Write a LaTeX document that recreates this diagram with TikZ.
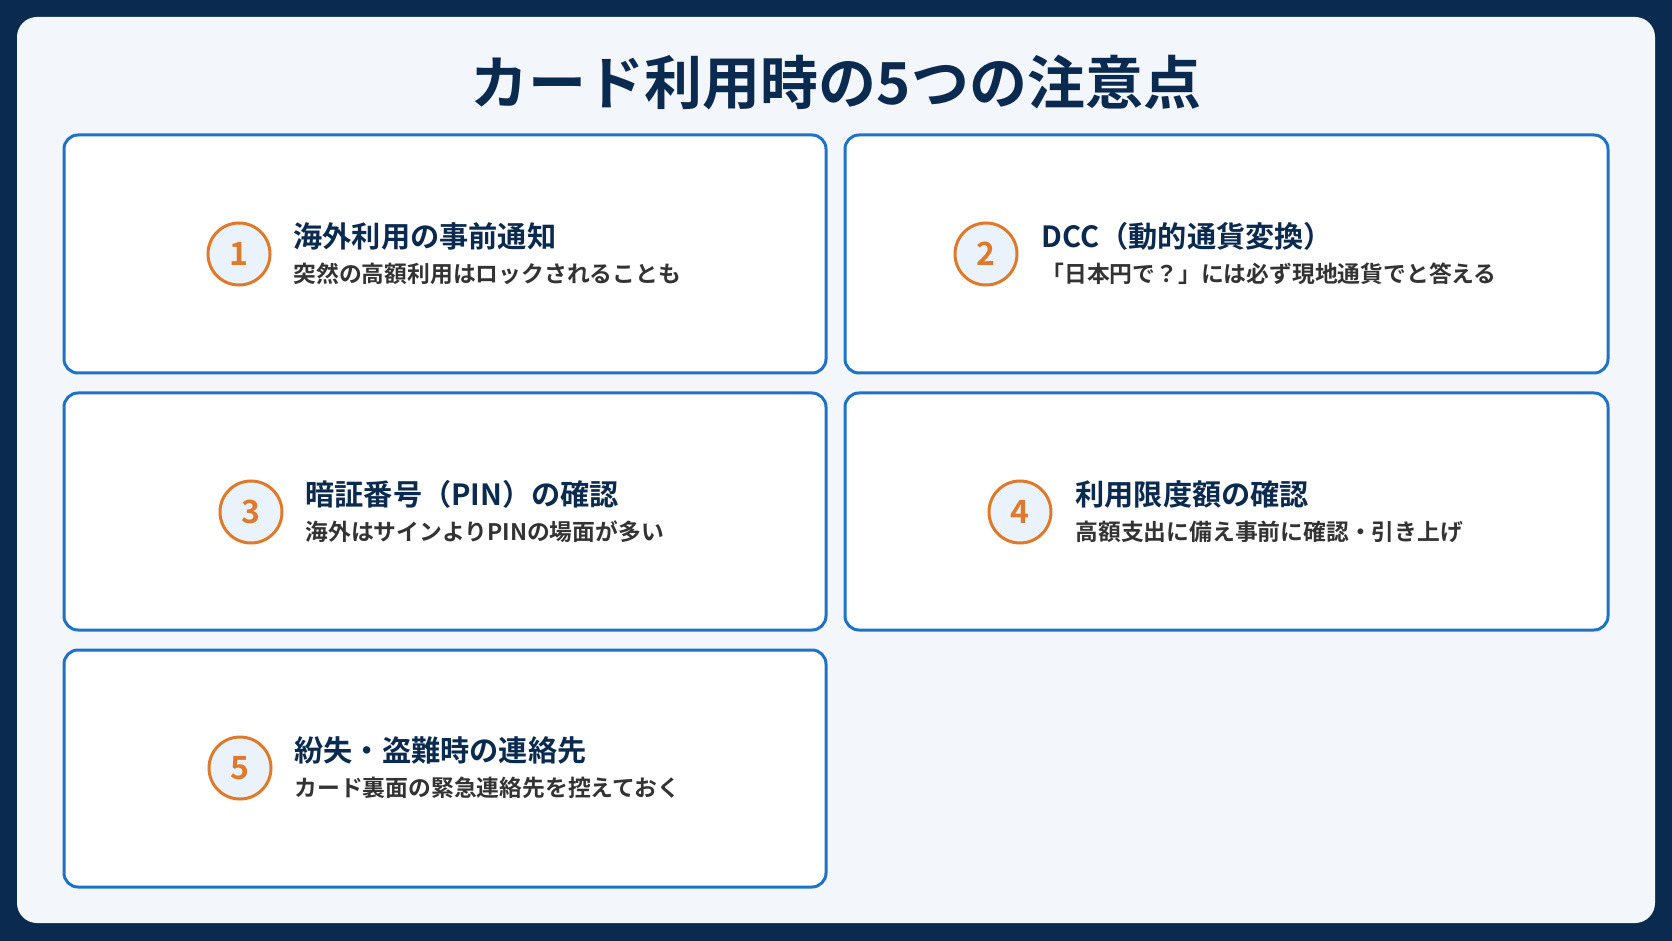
\documentclass[tikz,border=0pt]{standalone}
\usepackage{fontspec}
\setmainfont{Noto Sans CJK JP}
\newfontfamily\jpb{Noto Sans CJK JP Bold}
\definecolor{navy}{HTML}{0B2A4F}
\definecolor{panel}{HTML}{F3F7FB}
\definecolor{cardline}{HTML}{1F72C6}
\definecolor{ring}{HTML}{E07A2A}
\definecolor{ringfill}{HTML}{EAF2FB}
\definecolor{subgray}{HTML}{333333}
\tikzset{
  card/.style={draw=cardline, line width=1.5pt, fill=white, rounded corners=7pt},
  badge/.style={circle, draw=ring, line width=1.5pt, fill=ringfill, minimum size=31pt, inner sep=0pt,
    font=\jpb\fontsize{16}{16}\selectfont, text=ring},
  head/.style={anchor=west, inner sep=0pt, font=\jpb\fontsize{14.6}{16}\selectfont, text=navy},
  sub/.style={anchor=west, inner sep=0pt, font=\jpb\fontsize{11.4}{12}\selectfont, text=subgray}
}
\begin{document}
\begin{tikzpicture}[x=0.5pt, y=-0.5pt]
        % Background
        \fill[navy] (0,0) rectangle (1672,941);
        \useasboundingbox (0,0) rectangle (1672,941);
        \fill[panel, rounded corners=10pt] (17,17) rectangle (1655,923);

        % Title
        \node[font=\jpb\fontsize{29}{32}\selectfont, text=navy] (title) at (836,83) {カード利用時の5つの注意点};

        % Cards
        \draw[card] (64,135) rectangle (826,373);
        \draw[card] (845,135) rectangle (1608,373);
        \draw[card] (64,393) rectangle (826,630);
        \draw[card] (845,393) rectangle (1608,630);
        \draw[card] (64,650) rectangle (826,887);

        % Badges and texts
        \foreach \n/\cx/\tx/\cy/\hd/\sb in {
          1/239/293/254/{海外利用の事前通知}/{突然の高額利用はロックされることも},
          2/986/1041/254/{DCC（動的通貨変換）}/{「日本円で？」には必ず現地通貨でと答える},
          3/251/305/512/{暗証番号（PIN）の確認}/{海外はサインよりPINの場面が多い},
          4/1020/1075/512/{利用限度額の確認}/{高額支出に備え事前に確認・引き上げ},
          5/240/294/768/{紛失・盗難時の連絡先}/{カード裏面の緊急連絡先を控えておく}} {
          \node[badge] (badge\n) at (\cx,\cy) {\n};
          \node[head] (head\n) at (\tx,\cy-18) {\hd};
          \node[sub] (sub\n) at (\tx,\cy+20) {\sb};
        }
\end{tikzpicture}
\end{document}
